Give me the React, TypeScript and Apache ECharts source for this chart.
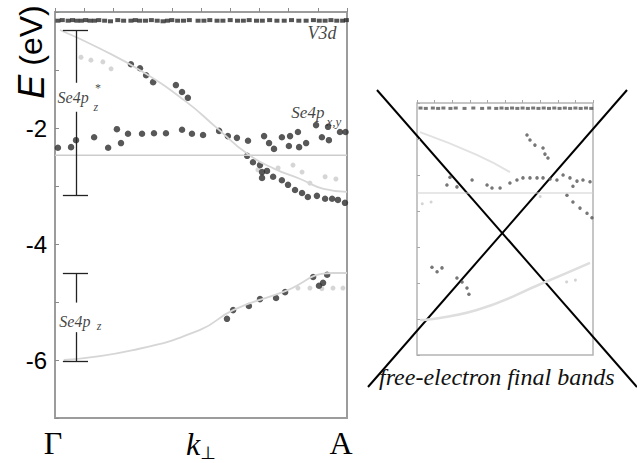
import React, { useEffect, useRef } from "react";
import * as echarts from "echarts";

// ---------- Left panel data (x: 0 = Γ, 1 = A ; y: E in eV) ----------
const v3dRow: number[][] = [
  [0.01, -0.15], [0.025, -0.14], [0.045, -0.15], [0.06, -0.14], [0.075, -0.15], [0.09, -0.15],
  [0.105, -0.14], [0.12, -0.15], [0.135, -0.15], [0.15, -0.14], [0.17, -0.15], [0.19, -0.16],
  [0.215, -0.14], [0.235, -0.15], [0.26, -0.15], [0.275, -0.14], [0.29, -0.15], [0.31, -0.15],
  [0.33, -0.14], [0.35, -0.15], [0.37, -0.16], [0.385, -0.15], [0.40, -0.14], [0.42, -0.15],
  [0.44, -0.15], [0.46, -0.14], [0.49, -0.15], [0.51, -0.15], [0.53, -0.14], [0.555, -0.15],
  [0.575, -0.15], [0.60, -0.14], [0.625, -0.15], [0.645, -0.15], [0.665, -0.14], [0.69, -0.15],
  [0.71, -0.15], [0.735, -0.14], [0.76, -0.15], [0.785, -0.15], [0.81, -0.14], [0.835, -0.15],
  [0.86, -0.15], [0.885, -0.14], [0.905, -0.15], [0.925, -0.15], [0.945, -0.14], [0.965, -0.15],
  [0.985, -0.15], [0.998, -0.14],
];

const darkPoints: number[][] = [
  // Se4pz* branch
  [0.26, -0.9], [0.291, -0.97], [0.312, -1.09], [0.336, -1.21], [0.414, -1.26], [0.435, -1.38], [0.455, -1.48],
  // Se4px,y band near -2
  [0.01, -2.34], [0.055, -2.33], [0.072, -2.21], [0.134, -2.16], [0.182, -2.34], [0.212, -2.02],
  [0.226, -2.26], [0.25, -2.1], [0.298, -2.1], [0.339, -2.09], [0.38, -2.09], [0.435, -2.03],
  [0.469, -2.1], [0.507, -2.12], [0.562, -2.05], [0.592, -2.14], [0.623, -2.17], [0.661, -2.22],
  [0.716, -2.14], [0.733, -2.26], [0.75, -2.36], [0.777, -2.16], [0.801, -2.31], [0.805, -2.14],
  [0.832, -2.07], [0.836, -2.33], [0.86, -2.26], [0.894, -1.95], [0.914, -2.16], [0.935, -1.98],
  [0.938, -2.21], [0.976, -2.07], [0.995, -2.07],
  // descending branch
  [0.658, -2.48], [0.678, -2.59], [0.702, -2.64], [0.709, -2.76], [0.726, -2.74], [0.709, -2.86],
  [0.747, -2.84], [0.777, -2.9], [0.798, -2.98], [0.822, -3.07], [0.846, -3.12], [0.866, -3.19],
  [0.897, -3.17], [0.925, -3.22], [0.949, -3.22], [0.969, -3.24], [0.993, -3.29],
  // Se4pz branch
  [0.589, -5.29], [0.61, -5.14], [0.664, -5.07], [0.702, -4.95], [0.757, -4.93], [0.788, -4.83],
  [0.884, -4.57], [0.932, -4.53], [0.904, -4.72], [0.918, -4.67],
];

const lightPoints: number[][] = [
  [0.089, -0.78], [0.123, -0.83], [0.164, -0.86], [0.192, -0.98],
  [0.695, -2.72], [0.764, -2.69], [0.815, -2.64], [0.846, -2.76], [0.873, -2.95], [0.925, -2.84], [0.962, -2.88],
  [0.832, -4.76], [0.873, -4.76], [0.914, -4.77], [0.952, -4.76], [0.986, -4.76],
];

const upperBand: number[][] = [
  [0.017, -0.31], [0.15, -0.62], [0.3, -1.03], [0.45, -1.55], [0.55, -1.98], [0.66, -2.45],
  [0.75, -2.7], [0.84, -2.88], [0.92, -3.05], [1.0, -3.1],
];
const lowerBand: number[][] = [
  [0.03, -6.0], [0.267, -5.83], [0.497, -5.48], [0.61, -5.14], [0.78, -4.83], [0.952, -4.5], [1.0, -4.5],
];
const refLevel: number[][] = [[0, -2.47], [1, -2.47]];

// ---------- Right (crossed-out) panel data ----------
const rTopRow: number[][] = [
  [0.02, -0.14], [0.05, -0.15], [0.09, -0.14], [0.12, -0.15], [0.15, -0.14], [0.19, -0.15], [0.22, -0.14],
  [0.27, -0.15], [0.32, -0.14], [0.37, -0.15], [0.41, -0.14], [0.45, -0.15], [0.48, -0.14], [0.51, -0.15],
  [0.54, -0.14], [0.57, -0.15], [0.6, -0.14], [0.63, -0.15], [0.66, -0.14], [0.69, -0.15], [0.72, -0.14],
  [0.75, -0.15], [0.78, -0.14], [0.81, -0.15], [0.84, -0.14], [0.87, -0.15], [0.9, -0.14], [0.93, -0.15],
  [0.96, -0.14], [0.99, -0.15],
];
const rDark: number[][] = [
  [0.625, -0.89], [0.642, -1.03], [0.67, -1.17], [0.716, -1.25], [0.727, -1.42], [0.744, -1.53],
  [0.1875, -2.06], [0.17, -2.28], [0.227, -2.33], [0.313, -2.14], [0.398, -2.28], [0.426, -2.36],
  [0.472, -2.36], [0.528, -2.22], [0.568, -2.14], [0.602, -2.08], [0.642, -2.08], [0.682, -2.08],
  [0.716, -2.08], [0.756, -2.11], [0.795, -2.14], [0.83, -2.0], [0.869, -2.08], [0.909, -2.17],
  [0.943, -2.14], [0.983, -2.19], [0.886, -2.31],
  [0.852, -2.56], [0.886, -2.75], [0.926, -2.92], [0.966, -3.06], [0.994, -3.19],
  [0.085, -4.56], [0.114, -4.69], [0.142, -4.58], [0.227, -4.86], [0.256, -4.97], [0.284, -5.14], [0.295, -5.31],
];
const rLight: number[][] = [
  [0.03, -2.8], [0.08, -2.75], [0.85, -4.97], [0.9, -4.92], [0.7, -2.6],
];
const rUpperBand: number[][] = [[0.017, -0.81], [0.34, -1.44], [0.528, -1.92]];
const rLowerBand: number[][] = [[0.017, -6.03], [0.34, -5.75], [0.716, -5.0], [0.983, -4.44]];
const rRefLevel: number[][] = [[0, -2.5], [1, -2.5]];

// ---------- Annotations ----------
const yTickLabels = [-2, -4, -6];
const errorBars: number[][][] = [
  // Se4pz* bar
  [[0.072, -0.31], [0.072, -1.22]],
  [[0.072, -1.72], [0.072, -3.16]],
  [[0.027, -0.31], [0.113, -0.31]],
  [[0.027, -3.16], [0.113, -3.16]],
  // Se4pz bar
  [[0.072, -4.5], [0.072, -5.01]],
  [[0.072, -5.52], [0.072, -6.03]],
  [[0.027, -4.5], [0.113, -4.5]],
  [[0.027, -6.03], [0.113, -6.03]],
];

const serif = "'Liberation Serif', 'DejaVu Serif', serif";
const sans = "'Liberation Sans', Arial, sans-serif";

export default function App() {
  const ref = useRef<HTMLDivElement>(null);
  useEffect(() => {
    if (!ref.current) return;
    const chart = echarts.init(ref.current, null, { renderer: "svg" });
    const richSe = {
      i: { fontFamily: serif, fontStyle: "italic", fontSize: 16, color: "#111" },
      n: { fontFamily: serif, fontSize: 16, color: "#111" },
    };
    const annLabel = (text: string, extra: any = {}) => ({
      show: true,
      position: "inside",
      formatter: text,
      color: "#111",
      fontFamily: serif,
      fontStyle: "italic",
      fontSize: 16,
      rich: richSe,
      ...extra,
    });
    const option: any = {
      animation: false,
      backgroundColor: "#ffffff",
      grid: [
        { left: 55, top: 12, width: 292, height: 406, show: true, borderColor: "#9c9c9c", borderWidth: 2 },
        { left: 417, top: 103, width: 176, height: 252, show: true, borderColor: "#b4b4b4", borderWidth: 1.5 },
      ],
      xAxis: [
        {
          gridIndex: 0, type: "value", min: 0, max: 1, interval: 0.1,
          axisLine: { show: false }, splitLine: { show: false },
          axisTick: { show: true, inside: true, length: 4, lineStyle: { color: "#8a8a8a", width: 1 } },
          axisLabel: {
            margin: 9,
            formatter: (v: number) =>
              Math.abs(v) < 1e-6 ? "{g|Γ}" : Math.abs(v - 0.5) < 1e-6 ? "{k|k}{p|⊥}" : Math.abs(v - 1) < 1e-6 ? "{a|A}" : "",
            rich: {
              g: { fontFamily: serif, fontSize: 32, color: "#000", padding: [0, 4, 0, 0] },
              a: { fontFamily: serif, fontSize: 32, color: "#000", padding: [0, 12, 0, 0] },
              k: { fontFamily: serif, fontStyle: "italic", fontSize: 32, color: "#000" },
              p: { fontFamily: "'DejaVu Sans', sans-serif", fontSize: 18, color: "#000", padding: [16, 0, 0, 0] },
            },
          },
        },
        {
          gridIndex: 1, type: "value", min: 0, max: 1, interval: 0.1,
          axisLine: { show: false }, splitLine: { show: false }, axisLabel: { show: false },
          axisTick: { show: true, inside: true, length: 3, lineStyle: { color: "#a8a8a8" } },
        },
      ],
      yAxis: [
        {
          gridIndex: 0, type: "value", min: -7, max: 0, interval: 1,
          axisLine: { show: false }, splitLine: { show: false },
          axisTick: { show: true, inside: true, length: 4, lineStyle: { color: "#8a8a8a" } },
          axisLabel: {
            margin: 8, fontSize: 24, fontFamily: sans, color: "#000",
            formatter: (v: number) => (yTickLabels.includes(Math.round(v)) && Math.abs(v - Math.round(v)) < 1e-6 ? String(Math.round(v)) : ""),
          },
        },
        {
          gridIndex: 1, type: "value", min: -7, max: 0, interval: 1,
          axisLine: { show: false }, splitLine: { show: false }, axisLabel: { show: false },
          axisTick: { show: true, inside: true, length: 3, lineStyle: { color: "#a8a8a8" } },
        },
      ],
      series: [
        { type: "line", xAxisIndex: 0, yAxisIndex: 0, data: refLevel, symbol: "none", lineStyle: { color: "#cdcdcd", width: 1.5 }, silent: true },
        { type: "line", xAxisIndex: 0, yAxisIndex: 0, data: upperBand, smooth: true, symbol: "none", lineStyle: { color: "#d6d6d6", width: 1.8 }, silent: true },
        { type: "line", xAxisIndex: 0, yAxisIndex: 0, data: lowerBand, smooth: true, symbol: "none", lineStyle: { color: "#d6d6d6", width: 1.8 }, silent: true },
        { type: "scatter", xAxisIndex: 0, yAxisIndex: 0, data: lightPoints, symbolSize: 5, itemStyle: { color: "#cbcbcb" } },
        { type: "scatter", xAxisIndex: 0, yAxisIndex: 0, data: v3dRow, symbol: "rect", symbolSize: [5, 4], itemStyle: { color: "#2a2a2a" } },
        { type: "scatter", xAxisIndex: 0, yAxisIndex: 0, data: darkPoints, symbolSize: 6.5, itemStyle: { color: "#2e2e2e" } },
        {
          type: "scatter", xAxisIndex: 0, yAxisIndex: 0, symbolSize: 0, silent: true,
          data: [
            { value: [0.914, -0.36], label: annLabel("V3d", { fontSize: 18 }) },
            { value: [0.866, -1.74], label: annLabel("{i|Se}{n|4}{i|p}", { fontSize: 17, rich: { i: { ...richSe.i, fontSize: 17 }, n: { ...richSe.n, fontSize: 17 } } }) },
            { value: [0.955, -1.88], label: annLabel("x,y", { fontSize: 13 }) },
            { value: [0.062, -1.47], label: annLabel("{i|Se}{n|4}{i|p}") },
            { value: [0.147, -1.31], label: annLabel("*", { fontSize: 12, fontStyle: "normal" }) },
            { value: [0.14, -1.64], label: annLabel("z", { fontSize: 12 }) },
            { value: [0.068, -5.33], label: annLabel("{i|Se}{n|4}{i|p}") },
            { value: [0.151, -5.42], label: annLabel("z", { fontSize: 12 }) },
          ],
          markLine: {
            silent: true, symbol: "none", label: { show: false },
            lineStyle: { color: "#222", width: 1.3, type: "solid" },
            data: errorBars.map((seg) => [{ coord: seg[0] }, { coord: seg[1] }]),
          },
        },
        // right panel
        { type: "line", xAxisIndex: 1, yAxisIndex: 1, data: rRefLevel, symbol: "none", lineStyle: { color: "#d0d0d0", width: 1.2 }, silent: true },
        { type: "line", xAxisIndex: 1, yAxisIndex: 1, data: rUpperBand, smooth: true, symbol: "none", lineStyle: { color: "#e2e2e2", width: 2 }, silent: true },
        { type: "line", xAxisIndex: 1, yAxisIndex: 1, data: rLowerBand, smooth: true, symbol: "none", lineStyle: { color: "#dedede", width: 2.5 }, silent: true },
        { type: "scatter", xAxisIndex: 1, yAxisIndex: 1, data: rLight, symbolSize: 3, itemStyle: { color: "#c8c8c8" } },
        { type: "scatter", xAxisIndex: 1, yAxisIndex: 1, data: rTopRow, symbol: "rect", symbolSize: [4, 3], itemStyle: { color: "#555" } },
        { type: "scatter", xAxisIndex: 1, yAxisIndex: 1, data: rDark, symbolSize: 3.5, itemStyle: { color: "#555" } },
      ],
      graphic: [
        {
          type: "text", x: 31, y: 52, rotation: Math.PI / 2,
          style: {
            text: "{e|E} {n|(eV)}", align: "center", verticalAlign: "middle",
            rich: {
              e: { fontFamily: sans, fontStyle: "italic", fontSize: 36, fill: "#000", color: "#000" },
              n: { fontFamily: sans, fontSize: 32, fill: "#000", color: "#000" },
            },
            fontFamily: sans, fontSize: 32, fill: "#000",
          },
        },
        { type: "line", shape: { x1: 377, y1: 90, x2: 637, y2: 387 }, style: { stroke: "#000", lineWidth: 2 } },
        { type: "line", shape: { x1: 627, y1: 90, x2: 368, y2: 387 }, style: { stroke: "#000", lineWidth: 2 } },
        {
          type: "text", x: 379, y: 377,
          style: { text: "free-electron final bands", fontFamily: serif, fontStyle: "italic", fontSize: 24, fill: "#111", verticalAlign: "middle" },
        },
      ],
    };
    chart.setOption(option);
    return () => chart.dispose();
  }, []);
  return <div ref={ref} style={{ position: "fixed", left: 0, top: 0, width: 637, height: 463 }} />;
}
